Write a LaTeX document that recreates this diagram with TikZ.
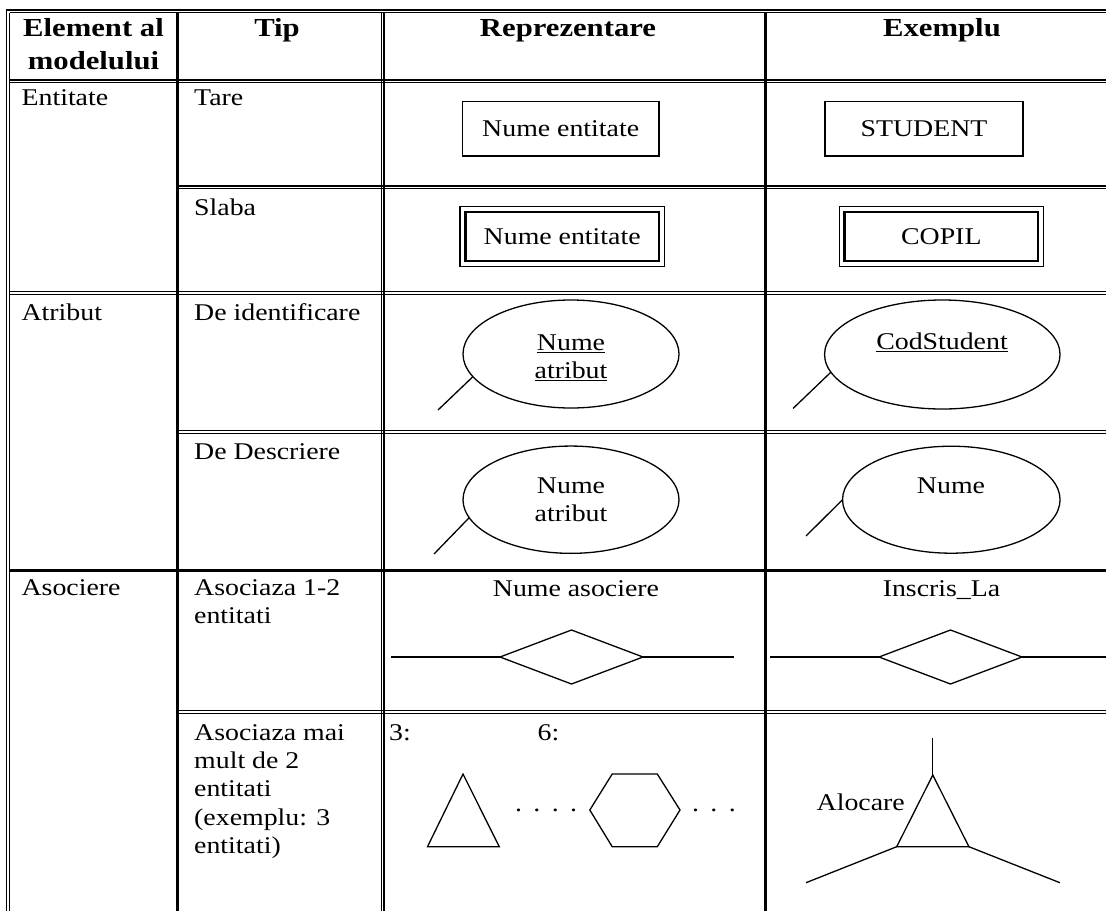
\documentclass[tikz,border=0pt]{standalone}
\usepackage{fontspec}
\setmainfont{Liberation Serif}[FakeStretch=1.16]
\newfontfamily\headfont{Liberation Serif}[FakeStretch=1.18]
\usetikzlibrary{shapes.geometric}
% multi-line cell text, baseline on the first line
\newcommand{\celltext}[2]{\begin{tabular}[t]{@{}#1@{}}#2\end{tabular}}
% underlined key attribute name
\newcommand{\undl}[1]{\setbox0\hbox{#1}\rlap{\rule[-3pt]{\wd0}{1.2pt}}\box0}
\begin{document}
\begin{tikzpicture}[x=1pt,y=-1pt,
  rule/.style={line width=1.1pt},
  heavyrule/.style={line width=3pt},
  body/.style={inner sep=0pt, font=\fontsize{24}{28.4}\selectfont},
  head/.style={inner sep=0pt, font=\headfont\bfseries\fontsize{26}{33}\selectfont},
  shapeline/.style={line width=1.3pt},
  entbox/.style={draw, shapeline, body, outer sep=0pt, minimum height=54.3pt},
  weakbox/.style={draw, line width=2.2pt, body, outer sep=0pt, minimum height=49pt},
  attr/.style={draw, shapeline, ellipse, inner sep=0pt, outer sep=0pt},
  rel/.style={draw, shapeline, diamond, inner sep=0pt, outer sep=0pt,
              minimum width=143pt, minimum height=54pt},
  link/.style={shapeline},
]
\useasboundingbox (0,0) rectangle (1106,911);

% ---------- table frame ----------
\draw[rule] (6.4,10) -- (1106,10);
\draw[rule] (9.6,12.8) -- (1106,12.8);
\draw[rule] (6.4,10) -- (6.4,911);
\draw[rule] (9.6,12.8) -- (9.6,911);
% column separators
\draw[heavyrule] (177.5,12.8) -- (177.5,911);
\draw[rule] (381.2,12.8) -- (381.2,911);
\draw[rule] (384,12.8) -- (384,911);
\draw[heavyrule] (765.6,12.8) -- (765.6,911);
% row separators
\draw[rule] (9.6,80) -- (1106,80);
\draw[rule] (9.6,82.7) -- (1106,82.7);
\draw[rule] (177.5,186) -- (1106,186);
\draw[rule] (177.5,188.7) -- (1106,188.7);
\draw[rule] (9.6,291.5) -- (1106,291.5);
\draw[rule] (9.6,294.2) -- (1106,294.2);
\draw[rule] (177.5,430.5) -- (1106,430.5);
\draw[rule] (177.5,433.2) -- (1106,433.2);
\draw[heavyrule] (9.6,570) -- (1106,570);
\draw[rule] (177.5,710.5) -- (1106,710.5);
\draw[rule] (177.5,713.2) -- (1106,713.2);

% ---------- header ----------
\node[head, anchor=base] (hElem) at (93.5,36.7) {\celltext{c}{Element al\\modelului}};
\node[head, anchor=base] (hTip) at (277,36.7) {Tip};
\node[head, anchor=base] (hRep) at (568,36.7) {Reprezentare};
\node[head, anchor=base] (hEx) at (942,36.7) {Exemplu};

% ---------- first two columns ----------
\node[body, anchor=base west] (cEnt) at (21.4,105) {Entitate};
\node[body, anchor=base west] (cTare) at (194,105) {Tare};
\node[body, anchor=base west] (cSlaba) at (194,215) {Slaba};
\node[body, anchor=base west] (cAtr) at (21.4,320) {Atribut};
\node[body, anchor=base west] (cIdent) at (194,320) {De identificare};
\node[body, anchor=base west] (cDescr) at (194,459) {De Descriere};
\node[body, anchor=base west] (cAsoc) at (21.4,595.5) {Asociere};
\node[body, anchor=base west] (cDoua) at (194,595.5) {\celltext{l}{Asociaza 1-2\\entitati}};
\node[body, anchor=base west] (cMulte) at (194,740)
  {\celltext{l}{Asociaza mai\\mult de 2\\entitati\\(exemplu: 3\\entitati)}};

% ---------- entities ----------
\node[entbox, minimum width=196.5pt] (repStrong) at (560.7,128.9) {Nume entitate};
\node[entbox, minimum width=198pt] (exStrong) at (924,128.9) {STUDENT};

\node[weakbox, minimum width=193.5pt] (repWeak) at (562.2,236.7) {Nume entitate};
\draw[rule] ([shift={(-5.5,-5.5)}]repWeak.north west) rectangle ([shift={(5.5,5.5)}]repWeak.south east);
\node[weakbox, minimum width=193.5pt] (exWeak) at (941.3,236.7) {COPIL};
\draw[rule] ([shift={(-5.5,-5.5)}]exWeak.north west) rectangle ([shift={(5.5,5.5)}]exWeak.south east);

% ---------- attributes ----------
\node[attr, minimum width=216pt, minimum height=108pt] (repKey) at (571,354) {};
\node[body, anchor=base] (repKeyTxt) at (571,350) {\celltext{c}{\undl{Nume}\\\undl{atribut}}};
\coordinate (repKeyEnd) at (438,410);
\draw[link] (repKey.193) -- (repKeyEnd);

\node[attr, minimum width=235.5pt, minimum height=109pt] (exKey) at (942.3,354.5) {};
\node[body, anchor=base] (exKeyTxt) at (942,349.3) {\undl{CodStudent}};
\coordinate (exKeyEnd) at (793,408.5);
\draw[link] (exKey.189) -- (exKeyEnd);

\node[attr, minimum width=216pt, minimum height=107.3pt] (repDes) at (571,499.7) {};
\node[body, anchor=base] (repDesTxt) at (571,493.3) {\celltext{c}{Nume\\atribut}};
\coordinate (repDesEnd) at (434,554);
\draw[link] (repDes.190) -- (repDesEnd);

\node[attr, minimum width=217.5pt, minimum height=107pt] (exDes) at (951.3,499.7) {};
\node[body, anchor=base] (exDesTxt) at (951,493.3) {Nume};
\coordinate (exDesEnd) at (806,536);
\draw[link] (exDes.180) -- (exDesEnd);

% ---------- binary relationships ----------
\node[body, anchor=base] (repRelTxt) at (576,596) {Nume asociere};
\node[rel] (repRel) at (571.5,657) {};
\coordinate (repRelL) at (391,657);
\coordinate (repRelR) at (734,657);
\draw[link] (repRelL) -- (repRel.west);
\draw[link] (repRel.east) -- (repRelR);

\node[body, anchor=base] (exRelTxt) at (941.5,596) {Inscris\_La};
\node[rel] (exRel) at (950.5,657) {};
\coordinate (exRelL) at (770,657);
\coordinate (exRelR) at (1106,657);
\draw[link] (exRelL) -- (exRel.west);
\draw[link] (exRel.east) -- (exRelR);

% ---------- n-ary relationships ----------
\node[body, anchor=base west] (lblThree) at (389,740) {3:};
\node[body, anchor=base west] (lblSix) at (537.5,740) {6:};

\coordinate (triA) at (463,774);
\coordinate (triB) at (427.5,846.7);
\coordinate (triC) at (499.3,846.7);
\draw[shapeline, line join=miter] (triA) -- (triB) -- (triC) -- cycle;

\node[body, anchor=base west] (dotsA) at (515,811) {\spaceskip=9pt . . . .};

\coordinate (hexL) at (589.8,810);
\coordinate (hexTL) at (612.2,774);
\coordinate (hexTR) at (657.3,774);
\coordinate (hexR) at (680,810);
\coordinate (hexBR) at (657.3,846.7);
\coordinate (hexBL) at (612.2,846.7);
\draw[shapeline] (hexL) -- (hexTL) -- (hexTR) -- (hexR) -- (hexBR) -- (hexBL) -- cycle;

\node[body, anchor=base west] (dotsB) at (692,811) {\spaceskip=9pt . . .};

% ternary example
\coordinate (alA) at (932.8,775);
\coordinate (alB) at (896.7,846.7);
\coordinate (alC) at (968.9,846.7);
\coordinate (alTop) at (932.8,738.3);
\coordinate (alLeft) at (806,882.7);
\coordinate (alRight) at (1059.9,882.7);
\draw[shapeline] (alA) -- (alB) -- (alC) -- cycle;
\draw[link] (alA) -- (alTop);
\draw[link] (alB) -- (alLeft);
\draw[link] (alC) -- (alRight);
\node[body, anchor=base east] (alTxt) at (905,810) {Alocare};
\end{tikzpicture}
\end{document}
